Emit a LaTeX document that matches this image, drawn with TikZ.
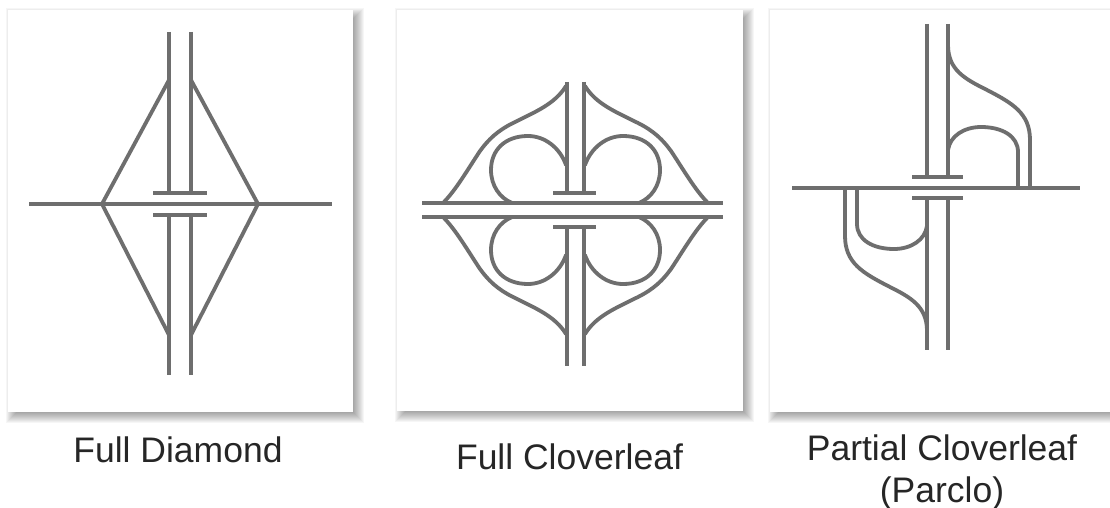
\documentclass[tikz,border=0pt]{standalone}
\usepackage{fontspec}
\setmainfont{Liberation Sans}
\definecolor{road}{HTML}{6E6E6E}
\definecolor{labelc}{HTML}{262626}
\tikzset{
  x=1pt,y=-1pt,
  road/.style={draw=road,line width=4pt,line cap=butt,line join=round},
  ramp/.style={draw=road,line width=3.8pt,line cap=round},
  caption/.style={font=\fontsize{35.5}{42}\selectfont,text=labelc,align=center,inner sep=0pt}
}
\newcommand{\panelbox}[4]{%
  \foreach \d in {-5,...,7}{
    \fill[black,opacity=0.035] (#1+5-\d,#2+5-\d) rectangle (#3+4+\d,#4+4+\d);
  }
  \fill[white] (#1,#2) rectangle (#3,#4);
}
\begin{document}
\begin{tikzpicture}
\useasboundingbox (0,0) rectangle (1110,508);
\fill[white] (0,0) rectangle (1110,508);
\panelbox{8}{10}{353}{412}
\panelbox{397}{10}{743}{411}
\panelbox{770}{10}{1125}{412}
\fill[white] (1110,0) rectangle (1140,508);

% Full Diamond
\coordinate (dW) at (102,204); \coordinate (dE) at (258,204);
\coordinate (dTL) at (169,80); \coordinate (dTR) at (191,80);
\coordinate (dBL) at (169,335); \coordinate (dBR) at (191,335);
\draw[road] (169,32)--(169,193) (191,32)--(191,193) (169,215)--(169,375) (191,215)--(191,375);
\draw[road] (29,204)--(332,204);
\draw[road] (153,193)--(207,193) (153,215)--(207,215);
\draw[ramp] (dTL)--(dW)--(dBL) (dTR)--(dE)--(dBR);

% Full Cloverleaf
\draw[road] (567,82)--(567,193) (584,82)--(584,193) (567,227)--(567,366) (584,227)--(584,366);
\draw[road] (422,203)--(723,203) (422,217)--(723,217);
\draw[road] (553,193)--(596,193) (553,227)--(596,227);
\foreach \sx/\ox in {1/0,-1/1151}{
  \foreach \sy/\oy in {1/0,-1/420}{
    \begin{scope}[xshift=\ox pt,yshift=-\oy pt,xscale=\sx,yscale=\sy]
      \draw[ramp] (566,86) .. controls (555,104) and (535,112) .. (513,123)
        .. controls (497,131) and (488,140) .. (480,151)
        .. controls (468,169) and (456,190) .. (443,203);
      \draw[ramp] (566,165) .. controls (560,148) and (545,136) .. (528,136)
        .. controls (505,136) and (491,150) .. (491,170)
        .. controls (491,186) and (500,198) .. (512,203);
    \end{scope}
  }
}

% Partial Cloverleaf
\draw[road] (927,24)--(927,177) (948,24)--(948,177) (927,198)--(927,350) (948,198)--(948,350);
\draw[road] (792,188)--(1080,188);
\draw[road] (912,177)--(963,177) (912,198)--(963,198);
\foreach \sg/\ox/\oy in {1/0/0,-1/1875/376}{
  \begin{scope}[xshift=\ox pt,yshift=-\oy pt,xscale=\sg,yscale=\sg]
    \draw[ramp] (948,45) .. controls (948,70) and (965,79) .. (987,90)
      .. controls (1012,103) and (1030,113) .. (1030,140) -- (1030,188);
    \draw[ramp] (948,150) .. controls (950,136) and (964,127) .. (981,127)
      .. controls (1002,127) and (1018,136) .. (1018,152) -- (1018,188);
  \end{scope}
}

\node[caption,anchor=base] (capA) at (178,462) {Full Diamond};
\node[caption,anchor=base] (capB) at (569.5,469) {Full Cloverleaf};
\node[caption,anchor=base] (capC) at (942,460) {Partial Cloverleaf};
\node[caption,anchor=base] (capD) at (942,502) {(Parclo)};
\end{tikzpicture}
\end{document}
